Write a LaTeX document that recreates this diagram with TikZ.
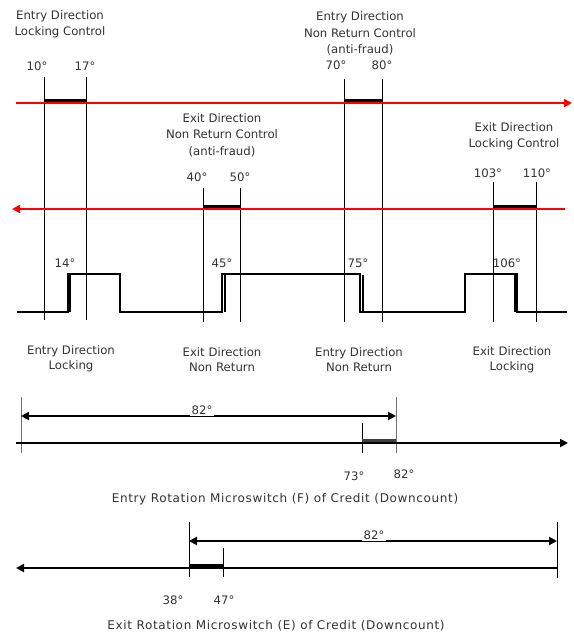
\documentclass[tikz,border=0pt]{standalone}
\usepackage{fontspec}
\setmainfont{DejaVu Sans}
\newfontfamily\capfont[LetterSpace=5.5]{DejaVu Sans}
\usetikzlibrary{arrows.meta}
\definecolor{txt}{gray}{0.2}
\begin{document}
\begin{tikzpicture}[x=1pt,y=-1pt,
  lbl/.style={font=\fontsize{11.7}{13}\selectfont, text=txt, inner sep=0pt, align=center},
  captext/.style={font=\capfont\fontsize{12}{13}\selectfont, text=txt, inner sep=0pt},
  guide/.style={line width=0.8pt},
  gguide/.style={line width=1pt, draw=black!55},
  tip/.style={-{Triangle[length=8pt,width=8pt]}},
  redarrow/.style={draw=red, line width=2pt, tip},
  bar/.style={line width=3pt},
  wave/.style={line width=2pt, line join=miter},
  edge2/.style={line width=1.4pt},
  axis/.style={line width=2pt, tip},
  dimline/.style={line width=2pt, {Triangle[length=8pt,width=8pt]}-{Triangle[length=8pt,width=8pt]}},
]
\useasboundingbox (0,0) rectangle (573,636);

% ---------- top labels ----------
\node[lbl] (t1a) at (60,16) {Entry Direction};
\node[lbl] (t1b) at (60,32) {Locking Control};
\node[lbl] (d10) at (37,66) {10°};
\node[lbl] (d17) at (85,66) {17°};

\node[lbl] (t2a) at (360,17) {Entry Direction};
\node[lbl] (t2b) at (360,33) {Non Return Control};
\node[lbl] (t2c) at (360,50) {(anti-fraud)};
\node[lbl] (d70) at (336,65) {70°};
\node[lbl] (d80) at (382,65) {80°};

\node[lbl] (t3a) at (222,118) {Exit Direction};
\node[lbl] (t3b) at (222,134) {Non Return Control};
\node[lbl] (t3c) at (222,152) {(anti-fraud)};
\node[lbl] (d40) at (197,177) {40°};
\node[lbl] (d50) at (240,177) {50°};

\node[lbl] (t4a) at (514,127) {Exit Direction};
\node[lbl] (t4b) at (514,144) {Locking Control};
\node[lbl] (d103) at (488,173) {103°};
\node[lbl] (d110) at (537,173) {110°};

% ---------- guide lines ----------
\draw[guide] (44,77) -- (44,320);
\draw[guide] (86,77) -- (86,320);
\draw[guide] (344,79) -- (344,322);
\draw[guide] (382,79) -- (382,322);
\draw[guide] (203,188) -- (203,322);
\draw[guide] (240,188) -- (240,322);
\draw[guide] (493,182) -- (493,322);
\draw[guide] (536,182) -- (536,322);

% ---------- red arrows ----------
\coordinate (r1s) at (16,103);
\coordinate (r1e) at (572,103);
\draw[redarrow] (r1s) -- (r1e);
\coordinate (r2s) at (565,209);
\coordinate (r2e) at (12,209);
\draw[redarrow] (r2s) -- (r2e);

% ---------- bars ----------
\draw[bar] (44,101) -- (86,101);
\draw[bar] (344,101) -- (382,101);
\draw[bar] (203,207) -- (240,207);
\draw[bar] (493,207) -- (536,207);

% ---------- waveform ----------
\draw[wave] (17,312) -- (68,312) -- (68,274) -- (120,274) -- (120,312)
  -- (222,312) -- (222,274) -- (360,274) -- (360,312) -- (465,312)
  -- (465,274) -- (517,274) -- (517,312) -- (567,312);
\draw[edge2] (70,312) -- (70,274);
\draw[edge2] (225,312) -- (225,275);
\draw[edge2] (363,275) -- (363,312);
\draw[edge2] (515,274) -- (515,312);

\node[lbl] (w14) at (65,263) {14°};
\node[lbl] (w45) at (222,263) {45°};
\node[lbl] (w75) at (358,263) {75°};
\node[lbl] (w106) at (507,263) {106°};

\node[lbl] (b1) at (71,359) {Entry Direction\\[2pt]Locking};
\node[lbl] (b2) at (222,360) {Exit Direction\\[2pt]Non Return};
\node[lbl] (b3) at (359,360) {Entry Direction\\[2pt]Non Return};
\node[lbl] (b4) at (512,360) {Exit Direction\\[2pt]Locking};

% ---------- entry rotation microswitch ----------
\draw[gguide] (21,397) -- (21,453);
\draw[gguide] (396,397) -- (396,453);
\draw[guide] (362,423) -- (362,453);
\coordinate (f0) at (21,416);
\coordinate (f1) at (396,416);
\draw[dimline] (f0) -- (f1);
\node[lbl, fill=white, inner sep=1.5pt, anchor=south] (f82) at (202,416.5) {82°};
\coordinate (fa0) at (16,443);
\coordinate (fa1) at (568,443);
\draw[axis] (fa0) -- (fa1);
\draw[bar, draw=black!75] (362,440) -- (396,440);
\node[lbl] (f73) at (354,476) {73°};
\node[lbl] (f82b) at (404,474) {82°};
\node[captext] (fcap) at (285,499) {Entry Rotation Microswitch (F) of Credit (Downcount)};

% ---------- exit rotation microswitch ----------
\draw[guide] (189,522) -- (189,577);
\draw[guide] (557,522) -- (557,578);
\draw[guide] (223,548) -- (223,577);
\coordinate (e0) at (189,541);
\coordinate (e1) at (557,541);
\draw[dimline] (e0) -- (e1);
\node[lbl, fill=white, inner sep=1.5pt, anchor=south] (e82) at (374,541.5) {82°};
\coordinate (ea0) at (557,568);
\coordinate (ea1) at (16,568);
\draw[axis] (ea0) -- (ea1);
\draw[bar] (189,565) -- (223,565);
\node[lbl] (e38) at (173,600) {38°};
\node[lbl] (e47) at (224,600) {47°};
\node[captext] (ecap) at (276,626) {Exit Rotation Microswitch (E) of Credit (Downcount)};
\end{tikzpicture}
\end{document}
